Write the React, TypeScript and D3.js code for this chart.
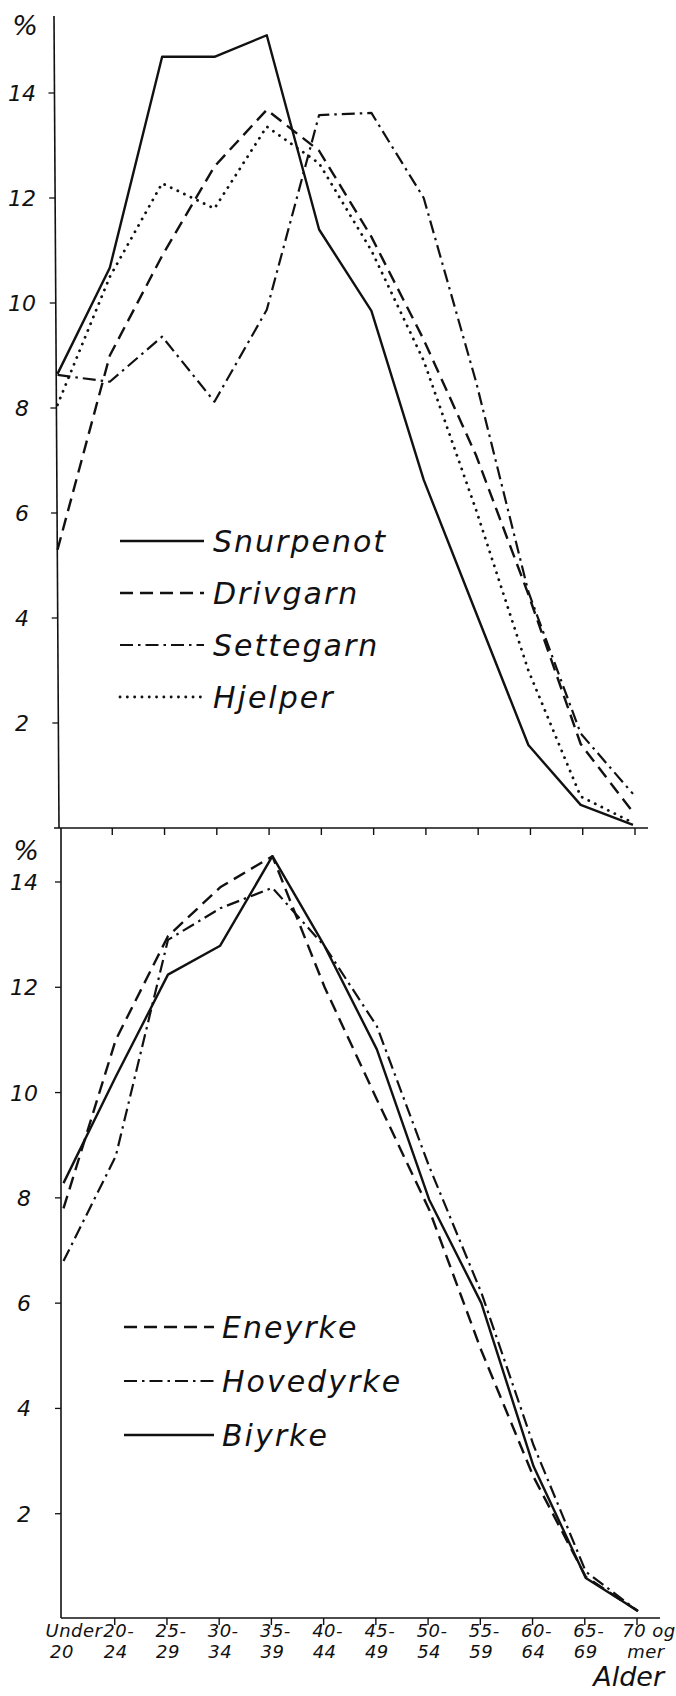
import * as d3 from 'd3';

const ageTop = ['Under', '20-', '25-', '30-', '35-', '40-', '45-', '50-', '55-', '60-', '65-', '70 og'];
const ageBottom = ['20', '24', '29', '34', '39', '44', '49', '54', '59', '64', '69', 'mer'];
const yTicks = [2, 4, 6, 8, 10, 12, 14];

// upper panel: by type of fishing gear
const snurpenot = [8.65, 10.67, 14.69, 14.69, 15.1, 11.4, 9.85, 6.63, 4.1, 1.58, 0.44, 0.06];
const drivgarn = [5.3, 9.0, 10.9, 12.6, 13.68, 12.9, 11.26, 9.3, 7.1, 4.45, 1.6, 0.3];
const settegarn = [8.63, 8.5, 9.36, 8.12, 9.87, 13.58, 13.62, 12.0, 8.5, 4.5, 1.8, 0.65];
const hjelper = [8.06, 10.5, 12.28, 11.8, 13.36, 12.66, 11.0, 8.9, 6.06, 3.0, 0.6, 0.1];

// lower panel: by occupation status
const eneyrke = [7.8, 11.0, 12.97, 13.9, 14.49, 12.0, 9.87, 7.78, 5.1, 2.7, 0.8, 0.15];
const hovedyrke = [6.8, 8.79, 12.9, 13.5, 13.89, 12.78, 11.26, 8.6, 6.2, 3.3, 0.9, 0.15];
const biyrke = [8.28, 10.3, 12.24, 12.79, 14.49, 12.78, 10.82, 7.97, 6.0, 2.9, 0.78, 0.15];

const W = 676;
const H = 1696;
const FONT = '"DejaVu Sans", sans-serif';

const styles: Record<string, { dash?: string; cap?: 'round' | 'butt'; w: number }> = {
  solid: { w: 2.4 },
  dashed: { dash: '13 7', w: 2.4 },
  dashdot: { dash: '13 5 2.5 5', w: 2.2 },
  dotted: { dash: '0.1 7.2', cap: 'round', w: 2.8 },
};

export default function App() {
  const idx = ageTop.map((_, i) => i);
  const xTop = d3.scalePoint<number>().domain(idx).range([57.5, 633]);
  const xMid = d3.scalePoint<number>().domain(idx).range([60, 635]);
  const xBot = d3.scalePoint<number>().domain(idx).range([63.5, 638]);
  const yTop = d3.scaleLinear().domain([0, 14]).range([828, 93]);
  const yBot = d3.scaleLinear().domain([0, 14]).range([1619, 882]);

  const lineTop = d3.line<number>().x((_, i) => xTop(i)!).y(d => yTop(d));
  const lineBot = d3.line<number>().x((_, i) => xBot(i)!).y(d => yBot(d));

  const topSeries = [
    { name: 'Snurpenot', data: snurpenot, st: 'solid' },
    { name: 'Drivgarn', data: drivgarn, st: 'dashed' },
    { name: 'Settegarn', data: settegarn, st: 'dashdot' },
    { name: 'Hjelper', data: hjelper, st: 'dotted' },
  ];
  const botSeries = [
    { name: 'Eneyrke', data: eneyrke, st: 'dashed' },
    { name: 'Hovedyrke', data: hovedyrke, st: 'dashdot' },
    { name: 'Biyrke', data: biyrke, st: 'solid' },
  ];

  const pathProps = (st: string) => ({
    fill: 'none',
    stroke: '#111',
    strokeWidth: styles[st].w,
    strokeDasharray: styles[st].dash,
    strokeLinecap: styles[st].cap || 'butt',
    strokeLinejoin: 'round' as const,
  });

  const txt = {
    fontFamily: FONT,
    fontStyle: 'italic',
    fill: '#111',
  };

  // top y-axis leans a little, as in the hand-drawn original
  const axTop = (y: number) => 54 + (5 * (y - 16)) / (828 - 16);

  return (
    <svg width={W} height={H} style={{ position: 'absolute', left: 0, top: 0, background: '#fff' }}>
      {/* axes */}
      <line x1={axTop(16)} y1={16} x2={axTop(828)} y2={828} stroke="#111" strokeWidth={1.6} />
      <line x1={54} y1={828} x2={648} y2={828} stroke="#111" strokeWidth={1.6} />
      <line x1={61} y1={828} x2={61} y2={1618} stroke="#111" strokeWidth={1.6} />
      <line x1={61} y1={1618} x2={660} y2={1618} stroke="#111" strokeWidth={1.6} />

      {idx.slice(1).map(i => (
        <line key={'mt' + i} x1={xMid(i)} x2={xMid(i)} y1={828} y2={835} stroke="#111" strokeWidth={1.4} />
      ))}
      {idx.slice(1).map(i => (
        <line key={'bt' + i} x1={xBot(i)! - 1} x2={xBot(i)! - 1} y1={1618} y2={1625} stroke="#111" strokeWidth={1.4} />
      ))}

      {yTicks.map(t => (
        <g key={'yt' + t}>
          <line x1={axTop(yTop(t)) - 6} x2={axTop(yTop(t))} y1={yTop(t)} y2={yTop(t)} stroke="#111" strokeWidth={1.3} />
          <text {...txt} x={22} y={yTop(t) + 8} fontSize={22} textAnchor="middle">{t}</text>
        </g>
      ))}
      {yTicks.map(t => (
        <g key={'yb' + t}>
          <line x1={55} x2={61} y1={yBot(t)} y2={yBot(t)} stroke="#111" strokeWidth={1.3} />
          <text {...txt} x={24} y={yBot(t) + 8} fontSize={22} textAnchor="middle">{t}</text>
        </g>
      ))}
      <text {...txt} x={25} y={35} fontSize={27} textAnchor="middle">%</text>
      <text {...txt} x={26} y={860} fontSize={27} textAnchor="middle">%</text>

      {/* x tick labels */}
      {ageTop.map((s, i) => (
        <text key={'xl1' + i} {...txt} x={i === 0 ? 74 : i === 11 ? 649 : xBot(i)! + 3} y={1637} fontSize={18} letterSpacing={0.5} textAnchor="middle">{s}</text>
      ))}
      {ageBottom.map((s, i) => (
        <text key={'xl2' + i} {...txt} x={i === 0 ? 62 : i === 11 ? 646 : xBot(i)!} y={1658} fontSize={18} letterSpacing={0.5} textAnchor="middle">{s}</text>
      ))}
      <text {...txt} x={664} y={1686} fontSize={27} textAnchor="end">Alder</text>

      {/* data */}
      {topSeries.map(s => (
        <path key={s.name} d={lineTop(s.data)!} {...pathProps(s.st)} />
      ))}
      {botSeries.map(s => (
        <path key={s.name} d={lineBot(s.data)!} {...pathProps(s.st)} />
      ))}

      {/* legends */}
      {topSeries.map((s, i) => {
        const y = 541 + i * 52;
        return (
          <g key={'lg' + s.name}>
            <line x1={120} x2={204} y1={y} y2={y} {...pathProps(s.st)} />
            <text {...txt} x={213} y={y + 11} fontSize={30} letterSpacing={2}>{s.name}</text>
          </g>
        );
      })}
      {botSeries.map((s, i) => {
        const y = 1327 + i * 54;
        return (
          <g key={'lb' + s.name}>
            <line x1={124} x2={214} y1={y} y2={y} {...pathProps(s.st)} />
            <text {...txt} x={222} y={y + 11} fontSize={30} letterSpacing={2}>{s.name}</text>
          </g>
        );
      })}
    </svg>
  );
}
